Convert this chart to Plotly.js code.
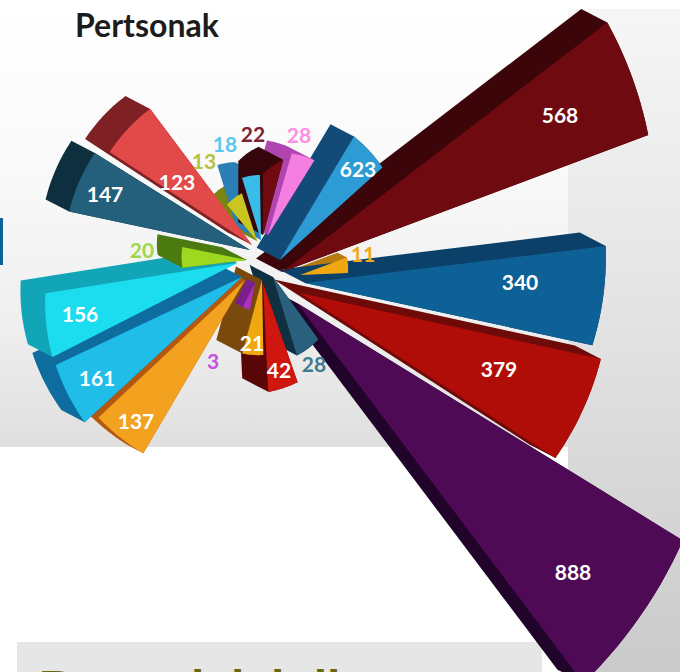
<!DOCTYPE html>
<html>
<head>
<meta charset="utf-8">
<script src="https://cdn.plot.ly/plotly-3.0.1.min.js"></script>
<style>
html,body{margin:0;padding:0;background:#fff;width:680px;height:672px;overflow:hidden;}
#stage{position:relative;width:680px;height:672px;overflow:hidden;background:#fff;}
#stage>div.bg{position:absolute;}
#bgA{left:0;top:0;width:570px;height:447px;background:linear-gradient(to bottom,#ffffff 0%,#fafafa 35%,#efefef 72%,#dfdfdf 100%);}
#bgB{left:568px;top:9px;width:112px;height:663px;background:linear-gradient(to bottom,#f6f6f6 0%,#e6e6e6 40%,#d8d8d8 70%,#cacaca 100%);}
#panel{left:17px;top:642px;width:525px;height:30px;background:#e6e6e6;}
#sliver{left:0;top:218px;width:3px;height:47px;background:#0e6196;}
#chart{position:absolute;left:-412px;top:-414px;width:1360px;height:1360px;}
</style>
</head>
<body>
<div id="stage">
<div class="bg" id="bgA"></div>
<div class="bg" id="bgB"></div>
<div class="bg" id="panel"></div>
<div class="bg" id="sliver"></div>
<div id="chart"></div>
</div>
<script>
// Values printed on the chart
var values    = [623,568,11,340,379,888,28,42,21,3,137,161,156,20,147,123,13,18,22,28];
// Wedge direction, angular width and drawn length (at both edges)
var direction = [50.6,29,11.5,-2.6,-22.6,-42.3,-63.5,-79,-97,-109,-128.6,-146,-162,177.8,158,136.8,118.6,99,82.5,66];
var spread    = [17,17,18,19.2,20.5,21.4,19,16.5,16,15.6,16.4,17.4,18,18.3,20,20,22,16,15,15.6];
var lengthLow = [138,391,48,294,304,476,82,109,76,27,201,206,194,66,183,170,50,65,78,88];
var lengthHigh= [144,410,50,303,308,453,77,105,75,27,201,214,207,65,185,170,47,65,61,85];
// Explosion of each wedge away from the hub
var explodeX  = [12,14,32,37,32,29,5,-5,-6,-13,-23,-26,-31,-21,-18,-16,-11,-7,-5,0];
var explodeY  = [-6,6,9,17,27,37,11,17,14,17,14,11,-3,-6,-16,-21,-25,-26,-31,-31];
// Extrusion depth of each wedge
var depth     = [0.9,1,0.36,1,1,1,0.9,1,1,0.3,0.5,0.9,0.95,0.95,0.9,0.95,0.6,0.95,0.95,0.95];
// Stacking order of the extruded sides
var sideOrder = [1,0,2,3,4,5,6,7,8,9,10,11,12,13,14,15,16,17,19,18];
var faceColors = ['#2e9cd4','#6e0a10','#efa812','#0e6196','#b00d08','#4f0a55','#28607e','#cf1710','#f0a810','#b030c0','#f3a21f','#1fbde8','#1cdcf0','#9fd81e','#24607c','#e24a4a','#c9c71f','#38bde8','#6e0a10','#f57fe0'];
var sideColors = ['#124a78','#3c050a','#b87a10','#0b4068','#6e0a08','#20042a','#0f3040','#5a0606','#7a4a0c','#7a1e90','#b4580f','#0f6c9e','#12a5b8','#4a7a10','#0d2f3e','#7f2024','#7a8510','#2a80b5','#35060c','#b045b0'];
// Label placement and colours
var labelX = [358,560,363,520,499,573,314,279,252,213,136,97,80,142,105,177,204,225,253,299];
var labelY = [172,118,257,285,372,575,367,373,346,364,424,381,317,253,197,185,164,147,137,138];
var labelColors = ['#fff','#fff','#f0a818','#fff','#fff','#fff','#3f7a90','#fff','#fff','#c850e0','#fff','#fff','#fff','#9ed84a','#fff','#fff','#b8c040','#5cc8ee','#7f2030','#ff8fe0'];
var chartTitle = 'Pertsonak';
var nextHeading = 'Bertsolak ktil';

var HUBX = 268, HUBY = 266, PAD_L = 412, PAD_T = 414, SIZE = 1360;
var SHIFT = [-26, -13.5];
var rad = Math.PI/180;

function sector(i){
  var ax = explodeX[i], ay = explodeY[i], pts = [[ax,ay]], steps = 14;
  for (var s = 0; s <= steps; s++){
    var f = s/steps;
    var t = (direction[i] - spread[i]/2 + spread[i]*f)*rad;
    var len = lengthLow[i] + (lengthHigh[i]-lengthLow[i])*f;
    pts.push([ax + len*Math.cos(t), ay - len*Math.sin(t)]);
  }
  return pts;
}
function hull(points){
  var p = points.slice().sort(function(a,b){return a[0]-b[0] || a[1]-b[1];});
  function cross(o,a,b){return (a[0]-o[0])*(b[1]-o[1])-(a[1]-o[1])*(b[0]-o[0]);}
  var lo = [], up = [], i;
  for (i = 0; i < p.length; i++){
    while (lo.length > 1 && cross(lo[lo.length-2],lo[lo.length-1],p[i]) <= 0) lo.pop();
    lo.push(p[i]);
  }
  for (i = p.length-1; i >= 0; i--){
    while (up.length > 1 && cross(up[up.length-2],up[up.length-1],p[i]) <= 0) up.pop();
    up.push(p[i]);
  }
  lo.pop(); up.pop();
  return lo.concat(up);
}
function toPolar(pts){
  var closed = pts.concat([pts[0]]);
  return {
    r: closed.map(function(q){return Math.hypot(q[0],q[1]);}),
    theta: closed.map(function(q){return Math.atan2(-q[1],q[0])/rad;})
  };
}
function wedgeTrace(pts,color,name){
  var p = toPolar(pts);
  return {type:'scatterpolar',mode:'lines',r:p.r,theta:p.theta,fill:'toself',fillcolor:color,
          line:{width:0,color:color,simplify:false},hoverinfo:'skip',showlegend:false,name:name};
}

var traces = [];
sideOrder.forEach(function(k){
  var face = sector(k);
  var back = face.map(function(q){return [q[0]+SHIFT[0]*depth[k], q[1]+SHIFT[1]*depth[k]];});
  traces.push(wedgeTrace(hull(face.concat(back)),sideColors[k],'side '+values[k]));
});
values.forEach(function(v,i){
  traces.push(wedgeTrace(sector(i),faceColors[i],'face '+v));
});
traces.push({
  type:'scatterpolar',mode:'text',
  r: labelX.map(function(x,i){return Math.hypot(x-HUBX,labelY[i]-HUBY);}),
  theta: labelX.map(function(x,i){return Math.atan2(HUBY-labelY[i],x-HUBX)/rad;}),
  text: values.map(String),
  textposition:'middle center',
  textfont:{family:'Lato, "Open Sans", sans-serif',size:21,weight:700,color:labelColors},
  hoverinfo:'skip',showlegend:false
});

var layout = {
  width:SIZE,height:SIZE,margin:{l:0,r:0,t:0,b:0,pad:0},
  paper_bgcolor:'rgba(0,0,0,0)',plot_bgcolor:'rgba(0,0,0,0)',showlegend:false,
  title:{text:'<b>'+chartTitle+'</b>',x:(75+PAD_L)/SIZE,xanchor:'left',xref:'paper',
         y:1-(26+PAD_T)/SIZE,yanchor:'middle',yref:'container',
         font:{family:'Lato, sans-serif',size:32,color:'#1c1c1c'}},
  polar:{domain:{x:[0,1],y:[0,1]},bgcolor:'rgba(0,0,0,0)',
         radialaxis:{visible:false,range:[0,SIZE/2]},
         angularaxis:{visible:false,direction:'counterclockwise',rotation:0}},
  annotations:[{text:'<b>'+nextHeading+'</b>',xref:'paper',yref:'paper',showarrow:false,
    x:(37+PAD_L)/SIZE,xanchor:'left',y:1-(658.5+PAD_T)/SIZE,yanchor:'top',
    font:{family:'"Liberation Sans", sans-serif',size:48,color:'#6b680e'}}]
};
Plotly.newPlot('chart',traces,layout,{displayModeBar:false,staticPlot:true});
</script>
</body>
</html>
